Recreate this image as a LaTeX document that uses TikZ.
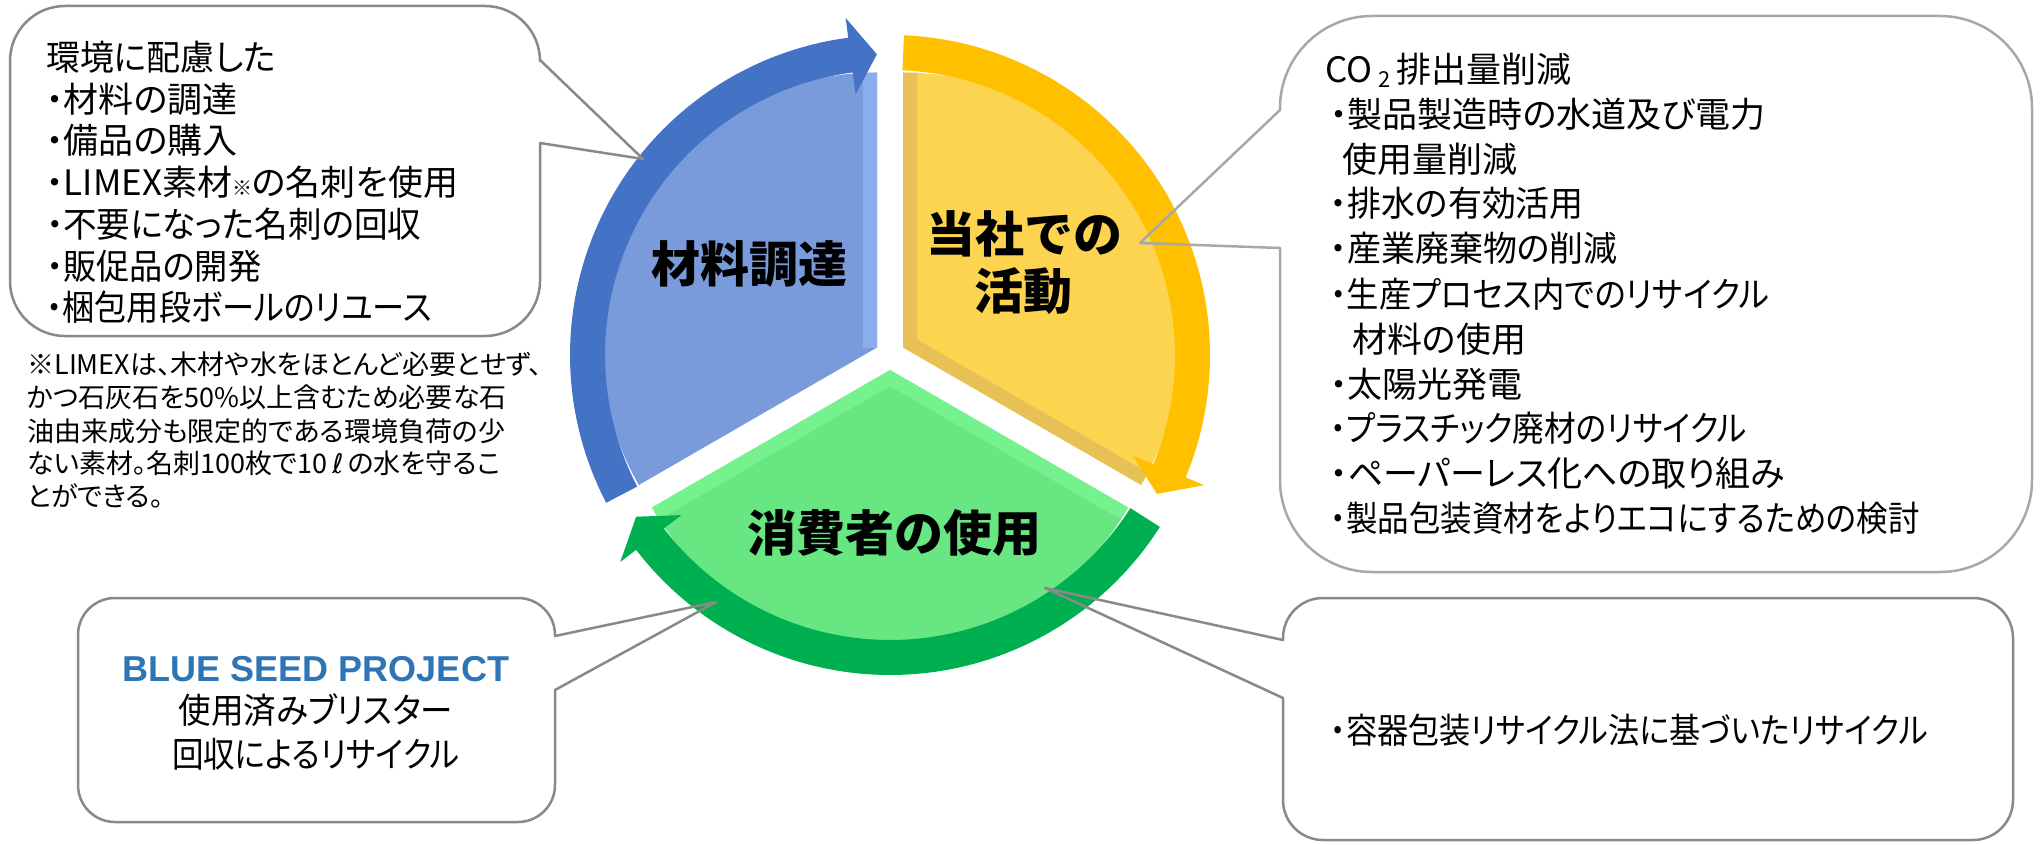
\documentclass[tikz,border=0pt]{standalone}
\usepackage{fontspec}
\usepackage{graphicx}
\newfontfamily\jp[RawFeature=+palt]{Noto Sans CJK JP}
\newfontfamily\jpf{Noto Sans CJK JP}
\newfontfamily\lib{Liberation Sans}
\newfontfamily\dv{DejaVu Sans}
\newcommand\sqz[2]{\scalebox{#1}[1]{#2}}
\definecolor{bandblue}{RGB}{68,114,196}
\definecolor{fillblue}{RGB}{122,155,219}
\definecolor{edgeblue}{RGB}{150,188,252}
\definecolor{bandyel}{RGB}{255,192,0}
\definecolor{fillyel}{RGB}{252,212,80}
\definecolor{edgeyel}{RGB}{214,178,92}
\definecolor{bandgrn}{RGB}{0,176,80}
\definecolor{fillgrn}{RGB}{104,230,130}
\definecolor{edgegrn}{RGB}{128,252,152}
\definecolor{calloutline}{RGB}{137,137,137}
\definecolor{calloutlight}{RGB}{168,168,168}
\definecolor{seedblue}{RGB}{46,117,182}
\tikzset{
  boxtxt/.style={font=\jp\fontsize{17.5pt}{21pt}\selectfont, inner sep=0pt, anchor=base west},
  notetxt/.style={font=\jp\fontsize{13.5pt}{16pt}\selectfont, inner sep=0pt, anchor=base west},
  ctrtxt/.style={font=\jp\fontsize{17.5pt}{21pt}\selectfont, inner sep=0pt, anchor=base},
  lbl/.style={font=\jpf\bfseries\fontsize{24.5pt}{29pt}\selectfont, inner sep=0pt, anchor=base},
  callout/.style={draw=calloutline, line width=1.25pt, line join=round},
  bevel/.style={line width=14pt, opacity=0.55},
}
\begin{document}
\begin{tikzpicture}[x=0.5pt,y=-0.5pt]
\fill[white] (0,0) rectangle (2040,845);
\useasboundingbox (0,0) rectangle (2040,845);

\begin{scope}[shift={(890,355)}]
  % sectors (exploded pie)
  \fill[fillblue] (210:15) -- ++(150:275) arc[start angle=150,end angle=270,radius=275] -- cycle;
  \fill[fillyel] (330:15) -- ++(270:275) arc[start angle=270,end angle=390,radius=275] -- cycle;
  \fill[fillgrn] (90:15) -- ++(30:275) arc[start angle=30,end angle=150,radius=275] -- cycle;
  % bevel edges
  \begin{scope}
    \clip (210:15) -- ++(150:275) arc[start angle=150,end angle=270,radius=275] -- cycle;
    \draw[bevel, draw=edgeblue] (210:15) -- ++(270:275);
  \end{scope}
  \begin{scope}
    \clip (330:15) -- ++(270:275) arc[start angle=270,end angle=390,radius=275] -- cycle;
    \draw[bevel, draw=edgeyel] (330:15) ++(270:275) -- (330:15) -- ++(30:275);
  \end{scope}
  \begin{scope}
    \clip (90:15) -- ++(30:275) arc[start angle=30,end angle=150,radius=275] -- cycle;
    \draw[bevel, draw=edgegrn] (90:15) ++(30:275) -- (90:15) -- ++(150:275);
  \end{scope}
  % circular arrow bands
  \fill[bandblue] (152.5:320) arc[start angle=152.5,end angle=262.5,radius=320]
     -- (262.5:340) -- (267.5:301) -- (262.5:263) -- (262.5:285)
     arc[start angle=262.5,end angle=152.5,radius=285] -- cycle;
  \fill[bandyel] (272.5:320) arc[start angle=272.5,end angle=382.5,radius=320]
     -- (382.5:340) -- (387.5:301) -- (382.5:263) -- (382.5:285)
     arc[start angle=382.5,end angle=272.5,radius=285] -- cycle;
  \fill[bandgrn] (32.5:320) arc[start angle=32.5,end angle=142.5,radius=320]
     -- (142.5:340) -- (147.5:301) -- (142.5:263) -- (142.5:285)
     arc[start angle=142.5,end angle=32.5,radius=285] -- cycle;
\end{scope}

% sector labels
\node[lbl] (lblA) at (749,283) {材料調達};
\node[lbl] (lblB1) at (1024,253) {当社での};
\node[lbl] (lblB2) at (1023,310) {活動};
\node[lbl] (lblC) at (894,551) {消費者の使用};

% top-left callout
\draw[callout] (540,60) -- (643,159) -- (540,143) -- (540,281)
  arc[start angle=0,end angle=90,radius=55] -- (65,336)
  arc[start angle=90,end angle=180,radius=55] -- (10,61)
  arc[start angle=180,end angle=270,radius=55] -- (485,6)
  arc[start angle=270,end angle=360,radius=55] -- cycle;
\node[boxtxt] (tl0) at (46,71) {\sqz{0.97}{環境に配慮した}};
\node[boxtxt] (tl1) at (46,113) {・材料の調達};
\node[boxtxt] (tl2) at (46,154) {・備品の購入};
\node[boxtxt] (tl3) at (46,196) {・LIMEX素材{\fontsize{10pt}{10pt}\selectfont ※}の名刺を使用};
\node[boxtxt] (tl4) at (46,238) {\sqz{0.96}{・不要になった名刺の回収}};
\node[boxtxt] (tl5) at (46,280) {\sqz{0.95}{・販促品の開発}};
\node[boxtxt] (tl6) at (46,321) {\sqz{0.92}{・梱包用段ボールのリユース}};

% footnote
\node[notetxt] (fn0) at (27,374) {※LIMEXは、木材や水をほとんど必要とせず、};
\node[notetxt] (fn1) at (27,407) {かつ石灰石を50\%以上含むため必要な石};
\node[notetxt] (fn2) at (27,441) {油由来成分も限定的である環境負荷の少};
\node[notetxt] (fn3) at (27,473) {ない素材。名刺100枚で10\,{\dv ℓ}\,の水を守るこ};
\node[notetxt] (fn4) at (27,506) {とができる。};

% top-right callout
\draw[callout, draw=calloutlight] (1280,248) -- (1140,243) -- (1280,110) -- (1280,108)
  arc[start angle=180,end angle=270,radius=92] -- (1940,16)
  arc[start angle=270,end angle=360,radius=92] -- (2032,480)
  arc[start angle=0,end angle=90,radius=92] -- (1372,572)
  arc[start angle=90,end angle=180,radius=92] -- cycle;
\node[boxtxt] (tr0) at (1325,83) {CO\,\raisebox{-2.5pt}{\fontsize{11pt}{11pt}\selectfont 2}\,排出量削減};
\node[boxtxt] (tr1) at (1330,128) {・製品製造時の水道及び電力};
\node[boxtxt] (tr2) at (1342,173) {使用量削減};
\node[boxtxt] (tr3) at (1330,217) {\sqz{0.97}{・排水の有効活用}};
\node[boxtxt] (tr4) at (1330,262) {\sqz{0.97}{・産業廃棄物の削減}};
\node[boxtxt] (tr5) at (1330,307) {\sqz{0.925}{・生産プロセス内でのリサイクル}};
\node[boxtxt] (tr6) at (1352,352) {材料の使用};
\node[boxtxt] (tr7) at (1330,397) {・太陽光発電};
\node[boxtxt] (tr8) at (1330,441) {\sqz{0.905}{・プラスチック廃材のリサイクル}};
\node[boxtxt] (tr9) at (1330,486) {・ペーパーレス化への取り組み};
\node[boxtxt] (tr10) at (1330,531) {\sqz{0.9}{・製品包装資材をよりエコにするための検討}};

% bottom-left callout
\draw[callout] (555,636) -- (716,602) -- (555,690) -- (555,785)
  arc[start angle=0,end angle=90,radius=37] -- (115,822)
  arc[start angle=90,end angle=180,radius=37] -- (78,635)
  arc[start angle=180,end angle=270,radius=37] -- (518,598)
  arc[start angle=270,end angle=360,radius=37] -- cycle;
\node[font=\lib\bfseries\fontsize{18pt}{21pt}\selectfont, text=seedblue, inner sep=0pt, anchor=base] (bl0) at (316,681) {BLUE SEED PROJECT};
\node[ctrtxt] (bl1) at (316,723) {\sqz{0.93}{使用済みブリスター}};
\node[ctrtxt] (bl2) at (316,767) {\sqz{0.9}{回収によるリサイクル}};

% bottom-right callout
\draw[callout] (1283,698) -- (1045,588) -- (1283,640) -- (1283,638)
  arc[start angle=180,end angle=270,radius=40] -- (1973,598)
  arc[start angle=270,end angle=360,radius=40] -- (2013,800)
  arc[start angle=0,end angle=90,radius=40] -- (1323,840)
  arc[start angle=90,end angle=180,radius=40] -- cycle;
\node[boxtxt] (br0) at (1330,743) {\sqz{0.89}{・容器包装リサイクル法に基づいたリサイクル}};
\end{tikzpicture}
\end{document}
